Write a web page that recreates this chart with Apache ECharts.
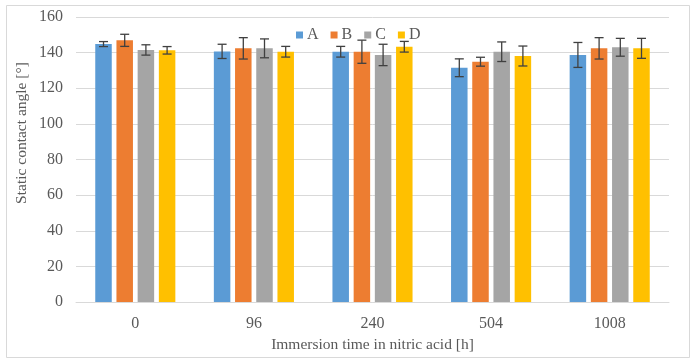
<!DOCTYPE html>
<html>
<head>
<meta charset="utf-8">
<script src="https://cdn.jsdelivr.net/npm/echarts@6/dist/echarts.min.js"></script>
<style>html,body{margin:0;padding:0;background:#fff}#c{width:700px;height:363px}</style>
</head>
<body>
<div id="c"></div>
<script>
const categories = ['0', '96', '240', '504', '1008'];
const seriesNames = ['A', 'B', 'C', 'D'];
const valuesA = [144.8, 140.7, 140.5, 131.5, 138.7];
const valuesB = [146.9, 142.4, 140.5, 134.9, 142.4];
const valuesC = [141.5, 142.4, 138.7, 140.5, 143.0];
const valuesD = [141.3, 140.5, 143.3, 138.1, 142.4];
const errA = [1.4, 4.0, 3.0, 5.0, 7.0];
const errB = [3.4, 6.0, 6.5, 2.5, 6.0];
const errC = [2.9, 5.3, 6.0, 5.5, 5.0];
const errD = [2.1, 3.0, 3.0, 5.6, 5.6];
const yTicks = [0, 20, 40, 60, 80, 100, 120, 140, 160];

const values = [valuesA, valuesB, valuesC, valuesD];
const errs = [errA, errB, errC, errD];
const colors = ['#5B9BD5', '#ED7D31', '#A5A5A5', '#FFC000'];
const FONT = '"Liberation Serif", "Times New Roman", serif';
const BAR_W = 16.5;
const BAR_GAP = 4.7;

const chart = echarts.init(document.getElementById('c'), null, {renderer: 'canvas'});

const series = [];
seriesNames.forEach((n, i) => {
  series.push({
    name: n, type: 'bar', data: values[i], barWidth: BAR_W, barGap: (BAR_GAP / BAR_W * 100) + '%',
    itemStyle: {color: colors[i]}, z: 2
  });
});
seriesNames.forEach((n, i) => {
  series.push({
    type: 'custom', name: n + '_err', z: 5, silent: true,
    data: values[i].map((v, j) => [j, v - errs[i][j], v + errs[i][j]]),
    renderItem: function (params, api) {
      const idx = api.value(0);
      const lo = api.coord([idx, api.value(1)]);
      const hi = api.coord([idx, api.value(2)]);
      const off = (i - 1.5) * (BAR_W + BAR_GAP);
      const x = lo[0] + off;
      const cap = 4.5;
      const st = {stroke: '#404040', lineWidth: 1.3};
      return {type: 'group', children: [
        {type: 'line', shape: {x1: x, y1: lo[1], x2: x, y2: hi[1]}, style: st},
        {type: 'line', shape: {x1: x - cap, y1: lo[1], x2: x + cap, y2: lo[1]}, style: st},
        {type: 'line', shape: {x1: x - cap, y1: hi[1], x2: x + cap, y2: hi[1]}, style: st}
      ]};
    }
  });
});

chart.setOption({
  backgroundColor: '#fff',
  animation: false,
  textStyle: {fontFamily: FONT},
  grid: {left: 76, right: 31, top: 17, bottom: 61, containLabel: false},
  legend: {
    data: seriesNames, top: 22, left: 291, itemWidth: 7, itemHeight: 7, itemGap: 12,
    icon: 'rect',
    textStyle: {fontFamily: FONT, fontSize: 16, color: '#595959', padding: [0, 0, 0, -1]}
  },
  xAxis: {
    type: 'category', data: categories,
    name: 'Immersion time in nitric acid [h]', nameLocation: 'middle', nameGap: 35,
    nameTextStyle: {fontFamily: FONT, fontSize: 15.5, color: '#595959'},
    axisLine: {lineStyle: {color: '#D9D9D9', width: 1}},
    axisTick: {show: false},
    axisLabel: {fontFamily: FONT, fontSize: 16, color: '#595959', margin: 14}
  },
  yAxis: {
    type: 'value', min: yTicks[0], max: yTicks[yTicks.length - 1], interval: 20,
    axisLine: {show: false}, axisTick: {show: false},
    splitLine: {lineStyle: {color: '#D9D9D9', width: 1}},
    axisLabel: {fontFamily: FONT, fontSize: 16, color: '#595959', margin: 13}
  },
  graphic: [
    {type: 'rect', shape: {x: 6.5, y: 5.5, width: 683, height: 352}, style: {fill: 'none', stroke: '#D9D9D9', lineWidth: 1}, silent: true},
    {type: 'text', x: 22, y: 133, rotation: Math.PI / 2,
     style: {text: 'Static contact angle [°]', font: '15.5px ' + FONT, fill: '#595959', textAlign: 'center', textVerticalAlign: 'middle'}}
  ],
  series: series
});
</script>
</body>
</html>
